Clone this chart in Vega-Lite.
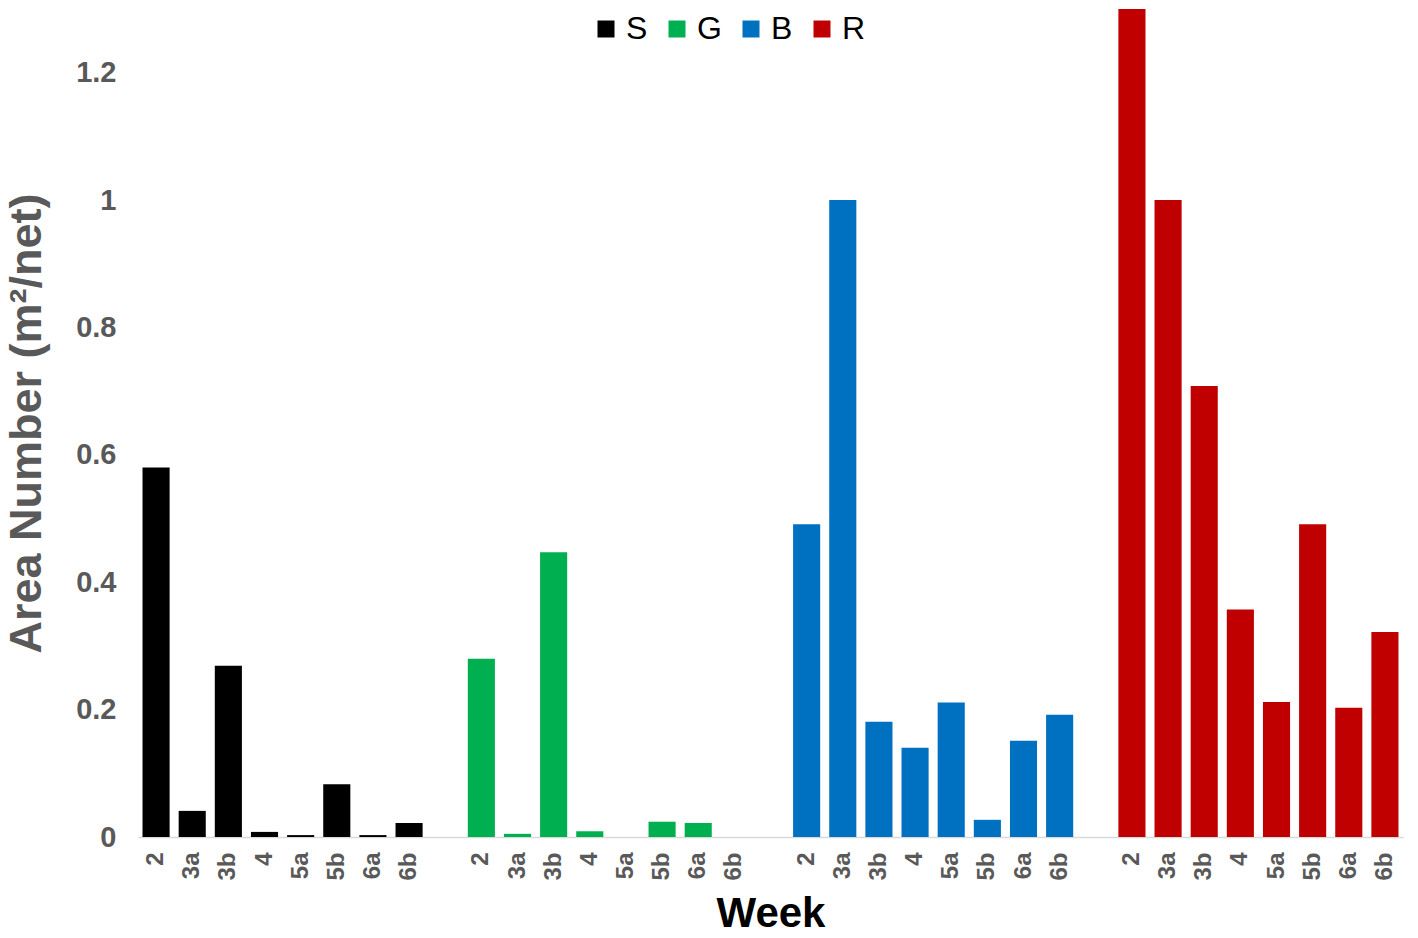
{
  "$schema": "https://vega.github.io/schema/vega-lite/v6.json",
  "autosize": {"type": "none"},
  "width": 1265,
  "height": 828,
  "padding": {"left": 138, "top": 9, "right": 15, "bottom": 101},
  "background": "white",
  "config": {"view": {"stroke": null}, "font": "Liberation Sans"},
  "data": {
    "values": [
      {"group": "S", "week": "2", "key": "S|2", "value": 0.580},
      {"group": "S", "week": "3a", "key": "S|3a", "value": 0.041},
      {"group": "S", "week": "3b", "key": "S|3b", "value": 0.269},
      {"group": "S", "week": "4", "key": "S|4", "value": 0.008},
      {"group": "S", "week": "5a", "key": "S|5a", "value": 0.003},
      {"group": "S", "week": "5b", "key": "S|5b", "value": 0.083},
      {"group": "S", "week": "6a", "key": "S|6a", "value": 0.003},
      {"group": "S", "week": "6b", "key": "S|6b", "value": 0.022},
      {"group": "G", "week": "2", "key": "G|2", "value": 0.280},
      {"group": "G", "week": "3a", "key": "G|3a", "value": 0.005},
      {"group": "G", "week": "3b", "key": "G|3b", "value": 0.447},
      {"group": "G", "week": "4", "key": "G|4", "value": 0.009},
      {"group": "G", "week": "5a", "key": "G|5a", "value": 0.0},
      {"group": "G", "week": "5b", "key": "G|5b", "value": 0.024},
      {"group": "G", "week": "6a", "key": "G|6a", "value": 0.022},
      {"group": "G", "week": "6b", "key": "G|6b", "value": 0.0},
      {"group": "B", "week": "2", "key": "B|2", "value": 0.491},
      {"group": "B", "week": "3a", "key": "B|3a", "value": 1.0},
      {"group": "B", "week": "3b", "key": "B|3b", "value": 0.181},
      {"group": "B", "week": "4", "key": "B|4", "value": 0.140},
      {"group": "B", "week": "5a", "key": "B|5a", "value": 0.211},
      {"group": "B", "week": "5b", "key": "B|5b", "value": 0.027},
      {"group": "B", "week": "6a", "key": "B|6a", "value": 0.151},
      {"group": "B", "week": "6b", "key": "B|6b", "value": 0.192},
      {"group": "R", "week": "2", "key": "R|2", "value": 1.30},
      {"group": "R", "week": "3a", "key": "R|3a", "value": 1.0},
      {"group": "R", "week": "3b", "key": "R|3b", "value": 0.708},
      {"group": "R", "week": "4", "key": "R|4", "value": 0.357},
      {"group": "R", "week": "5a", "key": "R|5a", "value": 0.212},
      {"group": "R", "week": "5b", "key": "R|5b", "value": 0.491},
      {"group": "R", "week": "6a", "key": "R|6a", "value": 0.203},
      {"group": "R", "week": "6b", "key": "R|6b", "value": 0.322}
    ]
  },
  "mark": {"type": "bar", "clip": true},
  "encoding": {
    "x": {
      "field": "key",
      "type": "nominal",
      "scale": {
        "domain": ["S|2","S|3a","S|3b","S|4","S|5a","S|5b","S|6a","S|6b","gap1",
                   "G|2","G|3a","G|3b","G|4","G|5a","G|5b","G|6a","G|6b","gap2",
                   "B|2","B|3a","B|3b","B|4","B|5a","B|5b","B|6a","B|6b","gap3",
                   "R|2","R|3a","R|3b","R|4","R|5a","R|5b","R|6a","R|6b"],
        "paddingInner": 0.25,
        "paddingOuter": 0.125
      },
      "axis": {
        "title": "Week",
        "titleFont": "Liberation Sans",
        "titleFontSize": 42,
        "titleFontWeight": "bold",
        "titleColor": "#000000",
        "titlePadding": 13,
        "labelExpr": "indexof(datum.value,'|') > 0 ? split(datum.value,'|')[1] : ''",
        "labelAngle": -90,
        "labelFont": "Liberation Sans",
        "labelFontSize": 24,
        "labelFontWeight": "bold",
        "labelColor": "#595959",
        "labelPadding": 15,
        "ticks": false,
        "domainColor": "#D9D9D9",
        "domainWidth": 1.5,
        "grid": false
      }
    },
    "y": {
      "field": "value",
      "type": "quantitative",
      "scale": {"domain": [0, 1.3], "nice": false},
      "axis": {
        "title": "Area Number (m²/net)",
        "titleFont": "Liberation Sans",
        "titleFontSize": 45,
        "titleFontWeight": "bold",
        "titleColor": "#595959",
        "titlePadding": 26,
        "values": [0, 0.2, 0.4, 0.6, 0.8, 1, 1.2],
        "format": "~g",
        "labelFont": "Liberation Sans",
        "labelFontSize": 29,
        "labelFontWeight": "bold",
        "labelColor": "#595959",
        "labelPadding": 22,
        "ticks": false,
        "domain": false,
        "grid": false
      }
    },
    "color": {
      "field": "group",
      "type": "nominal",
      "scale": {"domain": ["S", "G", "B", "R"], "range": ["#000000", "#00B050", "#0070C0", "#C00000"]},
      "legend": {
        "title": null,
        "orient": "none",
        "direction": "horizontal",
        "legendX": 452,
        "legendY": 4,
        "symbolType": "square",
        "symbolSize": 289,
        "symbolStrokeWidth": 0,
        "labelFont": "Liberation Sans",
        "labelFontSize": 32,
        "labelColor": "#000000",
        "labelOffset": 4,
        "columnPadding": 13
      }
    }
  }
}
